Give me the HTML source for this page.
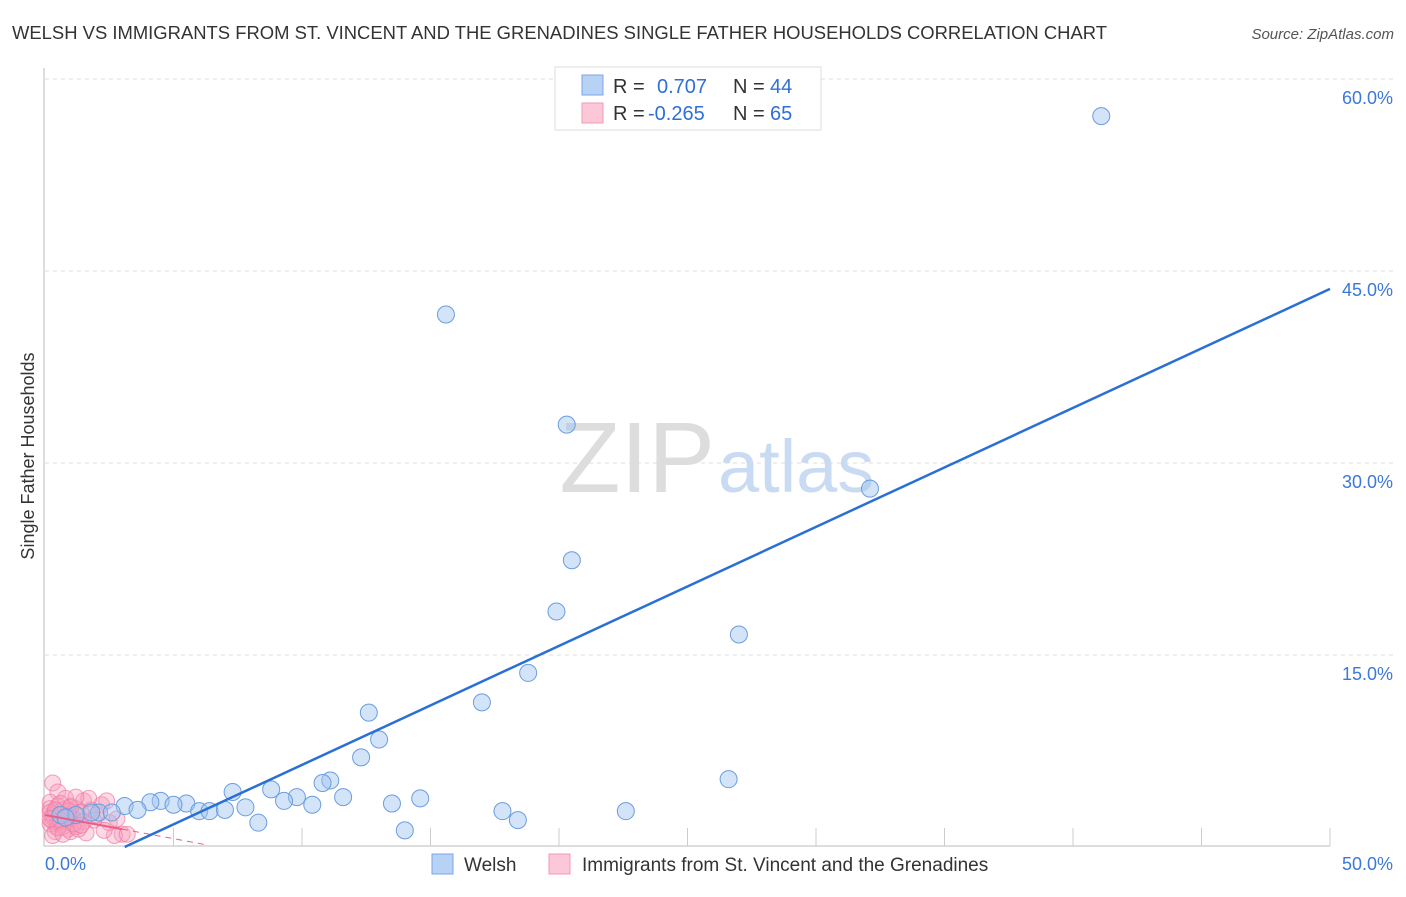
<!DOCTYPE html>
<html><head><meta charset="utf-8"><style>
body{margin:0;background:#fff;font-family:"Liberation Sans",sans-serif}
svg text{font-family:"Liberation Sans",sans-serif}
</style></head><body>
<svg width="1406" height="892">
<text x="12" y="39" font-size="18" fill="#333" textLength="1095" lengthAdjust="spacingAndGlyphs">WELSH VS IMMIGRANTS FROM ST. VINCENT AND THE GRENADINES SINGLE FATHER HOUSEHOLDS CORRELATION CHART</text>
<text x="1394" y="39" font-size="15" fill="#555" font-style="italic" text-anchor="end">Source: ZipAtlas.com</text>
<text x="34" y="456" font-size="18" fill="#333" transform="rotate(-90 34 456)" text-anchor="middle">Single Father Households</text>
<g id="grid"></g>
<text x="715" y="492" font-size="100" fill="#ddd" text-anchor="end" font-family="Liberation Serif">ZIP</text>
<text x="718" y="492" font-size="74" fill="#c9daf3">atlas</text>
<g id="marks"></g>
<g>
<rect x="555" y="67" width="266" height="63" fill="#fff" stroke="#ddd"/>
<rect x="582" y="75" width="21" height="20" fill="#b8d2f5" stroke="#7aa7e6"/>
<rect x="582" y="103" width="21" height="20" fill="#fcc8d8" stroke="#f29ab5"/>
<text x="613" y="93" font-size="20" fill="#333">R = </text><text x="657" y="93" font-size="20" fill="#2f6fd6">0.707</text>
<text x="733" y="93" font-size="20" fill="#333">N = </text><text x="770" y="93" font-size="20" fill="#2f6fd6">44</text>
<text x="613" y="120" font-size="20" fill="#333">R = </text><text x="648" y="120" font-size="20" fill="#2f6fd6">-0.265</text>
<text x="733" y="120" font-size="20" fill="#333">N = </text><text x="770" y="120" font-size="20" fill="#2f6fd6">65</text>
</g>
<g>
<rect x="432" y="854" width="21" height="20" fill="#b8d2f5" stroke="#7aa7e6"/>
<text x="464" y="871" font-size="19" fill="#333">Welsh</text>
<rect x="549" y="854" width="21" height="20" fill="#fcc8d8" stroke="#f29ab5"/>
<text x="582" y="871" font-size="19" fill="#333">Immigrants from St. Vincent and the Grenadines</text>
</g>
</svg>
<script>
const yTicks=[15,30,45,60];
const xTickLabels=["0.0%","50.0%"];
const welshX=[41.1,15.6,20.3,32.1,20.5,19.9,27.0,18.8,17.0,12.6,13.0,12.3,26.6,11.1,10.8,7.3,8.8,9.8,11.6,14.6,13.5,9.3,10.4,4.5,4.1,5.5,5.0,3.1,3.6,2.1,2.6,6.0,6.4,7.0,7.8,17.8,22.6,18.4,8.3,14.0,1.8,1.2,0.6,0.8];
const welshY=[57.1,41.6,33.0,28.0,22.4,18.4,16.6,13.6,11.3,10.5,8.4,7.0,5.3,5.2,5.0,4.3,4.5,3.9,3.9,3.8,3.4,3.6,3.3,3.6,3.5,3.4,3.3,3.2,2.9,2.7,2.7,2.8,2.8,2.9,3.1,2.8,2.8,2.1,1.9,1.3,2.7,2.5,2.5,2.3];
const vincX=[0.3,0.5,0.2,0.8,1.0,0.4,0.6,1.2,1.5,0.3,0.7,0.9,1.1,0.2,0.5,1.3,1.8,2.2,0.4,0.6,0.8,1.0,1.4,0.3,0.5,0.7,2.5,3.0,2.7,0.9,1.6,0.2,0.4,0.6,1.2,1.9,0.3,0.8,1.1,0.5,2.0,2.3,1.7,0.4,0.6,0.9,1.3,0.2,0.7,1.0,1.5,2.4,0.3,0.5,0.8,3.2,2.8,0.6,1.1,0.4,0.2,1.4,0.9,0.7,1.2];
const vincY=[5.0,4.3,3.5,3.8,3.2,2.8,2.5,3.0,3.6,2.0,2.2,2.6,1.8,3.0,1.5,2.4,2.9,3.3,2.2,1.7,2.0,1.2,2.7,2.5,3.2,2.9,1.9,1.0,0.9,1.4,1.1,1.8,2.6,3.4,1.6,2.1,2.3,2.4,2.2,1.9,2.5,1.3,3.8,1.2,2.0,2.8,1.4,2.7,1.6,3.1,2.0,3.6,0.9,1.5,2.3,1.0,2.2,2.1,1.8,2.9,2.2,1.7,2.4,1.0,3.9];
const X=v=>45+v*25.7, Y=v=>847-v*12.8;
const NS="http://www.w3.org/2000/svg";
function mk(t,a,p){const e=document.createElementNS(NS,t);for(const k in a)e.setAttribute(k,a[k]);p.appendChild(e);return e;}
const grid=document.getElementById('grid'),marks=document.getElementById('marks');
yTicks.forEach(t=>{
 const l=mk('line',{x1:45,x2:1393,y1:Y(t),y2:Y(t),stroke:'#ddd','stroke-dasharray':'4,4'},grid);
 
 
 const tx=mk('text',{x:1393,y:Y(t)+25,'font-size':18,fill:'#3b78d8','text-anchor':'end'},grid);
 tx.textContent=t.toFixed(1)+'%';
 
 
});
mk('line',{x1:44,x2:44,y1:68,y2:846,stroke:'#bbb'},grid);
mk('line',{x1:44,x2:1330,y1:846,y2:846,stroke:'#bbb'},grid);
for(let i=1;i<=10;i++){const x=X(i*5);const t=mk('line',{x1:x,x2:x,y1:828,y2:846,stroke:'#ccc'},grid);
 
 }
[[0,'start',45],[50,'end',1393]].forEach((d,i)=>{const tx=mk('text',{x:d[2],y:870,'font-size':18,fill:'#3b78d8','text-anchor':d[1]},grid);tx.textContent=xTickLabels[i];
 
 });
vincX.forEach((x,i)=>{const c=mk('circle',{cx:X(x),cy:Y(vincY[i]),r:8,fill:'rgba(248,160,190,0.4)',stroke:'rgba(240,120,160,0.7)'},marks);
 
 });
welshX.forEach((x,i)=>{const c=mk('circle',{cx:X(x),cy:Y(welshY[i]),r:8.5,fill:'rgba(160,195,240,0.45)',stroke:'#6a9de0'},marks);
 
 });
const pl=mk('line',{x1:X(0),y1:Y(2.5),x2:X(3),y2:Y(1.4),stroke:'#e8608a','stroke-width':2},marks);


mk('line',{x1:X(3),y1:Y(1.4),x2:X(6.2),y2:Y(0.2),stroke:'#e8608a','stroke-width':1,'stroke-dasharray':'6,5'},marks);
const bl=mk('line',{x1:X(3.1),y1:Y(0),x2:X(50),y2:Y(43.6),stroke:'#2a6fd6','stroke-width':2.5},marks);


</script>
</body></html>
